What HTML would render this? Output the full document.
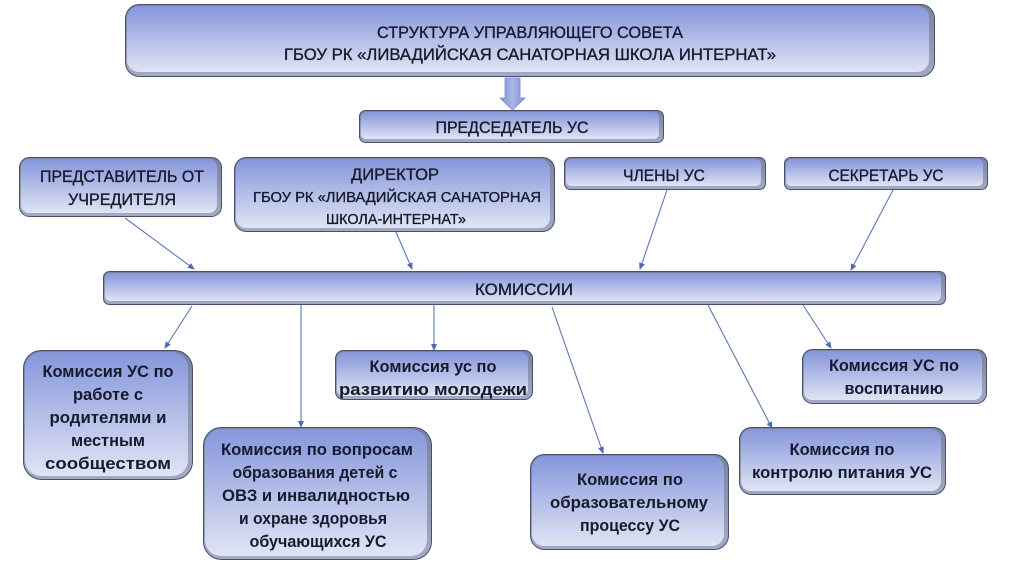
<!DOCTYPE html>
<html><head><meta charset="utf-8">
<style>
html,body{margin:0;padding:0;background:#fff;}
svg{display:block;}
text{font-family:"Liberation Sans",sans-serif;fill:#161b2c;}
.c{font-size:17px;stroke:#161b2c;stroke-width:0.35px;}
.b{font-size:17px;font-weight:bold;}
</style></head>
<body>
<svg width="1024" height="576" viewBox="0 0 1024 576" xmlns="http://www.w3.org/2000/svg">
<defs>
<linearGradient id="g" x1="0" y1="0" x2="0" y2="1">
<stop offset="0" stop-color="#8596db"/>
<stop offset="1" stop-color="#e0e4f4"/>
</linearGradient>
<linearGradient id="bv" x1="0" y1="0" x2="0" y2="1">
<stop offset="0" stop-color="#78829f"/>
<stop offset="1" stop-color="#a3aac0"/>
</linearGradient>
<linearGradient id="ar" x1="0" y1="0" x2="1" y2="0">
<stop offset="0" stop-color="#7f92d2"/>
<stop offset="0.5" stop-color="#a9b6e6"/>
<stop offset="1" stop-color="#7f92d2"/>
</linearGradient>
<marker id="m" markerWidth="7" markerHeight="6" refX="6" refY="3" orient="auto" markerUnits="userSpaceOnUse">
<path d="M0,0 L7,3 L0,6 Z" fill="#4d6cb0"/>
</marker>
</defs>

<g stroke="#47516f" stroke-width="1">
<rect x="125.5" y="4.5" width="809" height="72" rx="14" fill="url(#bv)"/>
<rect x="359.5" y="110.5" width="304" height="32" rx="6" fill="url(#bv)"/>
<rect x="19.5" y="157.5" width="202" height="59" rx="10" fill="url(#bv)"/>
<rect x="234.5" y="157.5" width="320" height="74" rx="12" fill="url(#bv)"/>
<rect x="564.5" y="157.5" width="201" height="32" rx="6" fill="url(#bv)"/>
<rect x="784.5" y="157.5" width="203" height="32" rx="6" fill="url(#bv)"/>
<rect x="103.5" y="271.5" width="842" height="33" rx="6" fill="url(#bv)"/>
<rect x="23.5" y="350.5" width="169" height="129" rx="18" fill="url(#bv)"/>
<rect x="203.5" y="427.5" width="228" height="132" rx="18" fill="url(#bv)"/>
<rect x="335.5" y="350.5" width="197" height="49" rx="8" fill="url(#bv)"/>
<rect x="530.5" y="454.5" width="198" height="95" rx="14" fill="url(#bv)"/>
<rect x="739.5" y="427.5" width="206" height="67" rx="12" fill="url(#bv)"/>
<rect x="802.5" y="349.5" width="184" height="54" rx="10" fill="url(#bv)"/>
</g>
<g fill="url(#g)">
<rect x="127" y="6" width="802" height="66" rx="12"/>
<rect x="361" y="112" width="298" height="27" rx="5"/>
<rect x="21" y="159" width="196" height="54" rx="8"/>
<rect x="236" y="159" width="314" height="69" rx="10"/>
<rect x="566" y="159" width="195" height="27" rx="5"/>
<rect x="786" y="159" width="197" height="27" rx="5"/>
<rect x="105" y="273" width="836" height="28" rx="5"/>
<rect x="25" y="352" width="163" height="124" rx="16"/>
<rect x="205" y="429" width="222" height="127" rx="16"/>
<rect x="337" y="352" width="191" height="44" rx="7"/>
<rect x="532" y="456" width="192" height="90" rx="12"/>
<rect x="741" y="429" width="200" height="62" rx="10"/>
<rect x="804" y="351" width="178" height="49" rx="8"/>
</g>

<path d="M505,78 L520,78 L520,98 L525,98 L512.5,110 L500,98 L505,98 Z" fill="url(#ar)" stroke="#7a8cc8" stroke-width="0.8"/>

<g stroke="#5b77b4" stroke-width="1.1" fill="none" marker-end="url(#m)">
<line x1="125" y1="218" x2="194" y2="269"/>
<line x1="396" y1="232" x2="412" y2="269"/>
<line x1="667" y1="190" x2="640" y2="269"/>
<line x1="893" y1="190" x2="851" y2="270"/>
<line x1="192" y1="306" x2="165" y2="348"/>
<line x1="301" y1="305" x2="301" y2="427"/>
<line x1="434" y1="305" x2="434" y2="350"/>
<line x1="552" y1="307" x2="603" y2="453"/>
<line x1="708" y1="305" x2="772" y2="428"/>
<line x1="803" y1="305" x2="831" y2="348"/>
</g>

<g text-anchor="middle">
<text class="c" x="530" y="38" textLength="306" lengthAdjust="spacingAndGlyphs">СТРУКТУРА УПРАВЛЯЮЩЕГО СОВЕТА</text>
<text class="c" x="530" y="60" textLength="492" lengthAdjust="spacingAndGlyphs">ГБОУ РК «ЛИВАДИЙСКАЯ САНАТОРНАЯ ШКОЛА ИНТЕРНАТ»</text>
<text class="c" x="512" y="133" textLength="153" lengthAdjust="spacingAndGlyphs">ПРЕДСЕДАТЕЛЬ УС</text>
<text class="c" x="122" y="182" textLength="164" lengthAdjust="spacingAndGlyphs">ПРЕДСТАВИТЕЛЬ ОТ</text>
<text class="c" x="122" y="205" textLength="108" lengthAdjust="spacingAndGlyphs">УЧРЕДИТЕЛЯ</text>
<text class="c" x="395" y="180" textLength="88" lengthAdjust="spacingAndGlyphs">ДИРЕКТОР</text>
<text class="c" x="397" y="202" style="font-size:15px" textLength="288" lengthAdjust="spacingAndGlyphs">ГБОУ РК «ЛИВАДИЙСКАЯ САНАТОРНАЯ</text>
<text class="c" x="396" y="224" style="font-size:15px" textLength="140" lengthAdjust="spacingAndGlyphs">ШКОЛА-ИНТЕРНАТ»</text>
<text class="c" x="664" y="181" textLength="82" lengthAdjust="spacingAndGlyphs">ЧЛЕНЫ УС</text>
<text class="c" x="886" y="181" textLength="115" lengthAdjust="spacingAndGlyphs">СЕКРЕТАРЬ УС</text>
<text class="c" x="524" y="295" textLength="98" lengthAdjust="spacingAndGlyphs">КОМИССИИ</text>
</g>

<g text-anchor="middle">
<text class="b" x="108" y="377" textLength="131" lengthAdjust="spacingAndGlyphs">Комиссия УС по</text>
<text class="b" x="108" y="400" textLength="70" lengthAdjust="spacingAndGlyphs">работе с</text>
<text class="b" x="108" y="423" textLength="117" lengthAdjust="spacingAndGlyphs">родителями и</text>
<text class="b" x="108" y="446" textLength="74" lengthAdjust="spacingAndGlyphs">местным</text>
<text class="b" x="108" y="469" textLength="126" lengthAdjust="spacingAndGlyphs">сообществом</text>

<text class="b" x="317" y="455" textLength="192" lengthAdjust="spacingAndGlyphs">Комиссия по вопросам</text>
<text class="b" x="315" y="478" textLength="165" lengthAdjust="spacingAndGlyphs">образования детей с</text>
<text class="b" x="316" y="501" textLength="188" lengthAdjust="spacingAndGlyphs">ОВЗ и инвалидностью</text>
<text class="b" x="313" y="524" textLength="148" lengthAdjust="spacingAndGlyphs">и охране здоровья</text>
<text class="b" x="318" y="547" textLength="137" lengthAdjust="spacingAndGlyphs">обучающихся УС</text>

<text class="b" x="433" y="372" textLength="127" lengthAdjust="spacingAndGlyphs">Комиссия ус по</text>
<text class="b" x="433" y="395" textLength="188" lengthAdjust="spacingAndGlyphs">развитию молодежи</text>

<text class="b" x="630" y="485" textLength="106" lengthAdjust="spacingAndGlyphs">Комиссия по</text>
<text class="b" x="629" y="508" textLength="158" lengthAdjust="spacingAndGlyphs">образовательному</text>
<text class="b" x="630" y="531" textLength="100" lengthAdjust="spacingAndGlyphs">процессу УС</text>

<text class="b" x="842" y="455" textLength="105" lengthAdjust="spacingAndGlyphs">Комиссия по</text>
<text class="b" x="842" y="478" textLength="180" lengthAdjust="spacingAndGlyphs">контролю питания  УС</text>

<text class="b" x="894" y="371" textLength="130" lengthAdjust="spacingAndGlyphs">Комиссия УС по</text>
<text class="b" x="894" y="394" textLength="99" lengthAdjust="spacingAndGlyphs">воспитанию</text>
</g>
</svg>
</body></html>
